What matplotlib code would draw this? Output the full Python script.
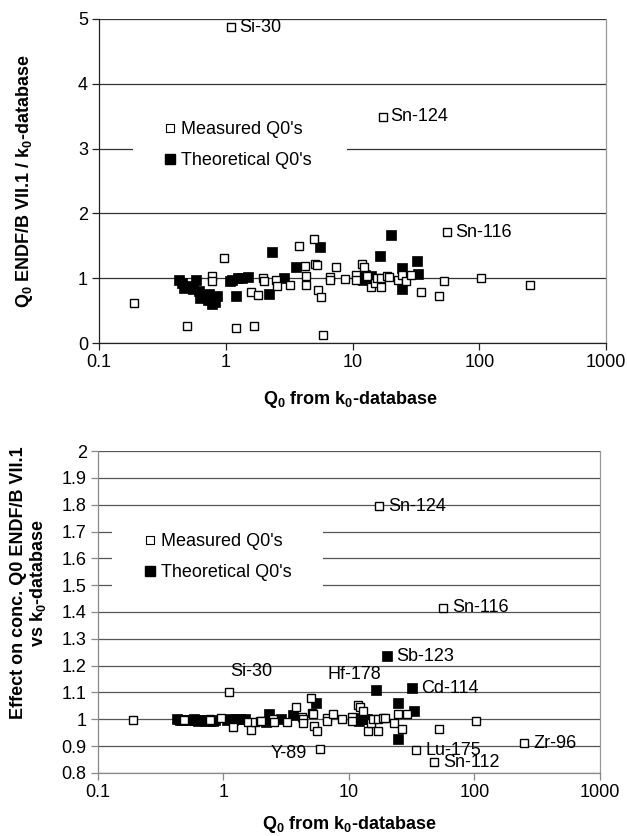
import matplotlib
matplotlib.use("Agg")
import matplotlib.pyplot as plt
from matplotlib.patches import Rectangle
from matplotlib.lines import Line2D

plt.rcParams['font.family'] = ['Liberation Sans', 'DejaVu Sans']
plt.rcParams['mathtext.fontset'] = 'custom'
plt.rcParams['mathtext.rm'] = 'Liberation Sans'
plt.rcParams['mathtext.it'] = 'Liberation Sans:italic'
plt.rcParams['mathtext.bf'] = 'Liberation Sans:bold'

# ---------------- data ----------------
# Measured Q0's (open squares): Q0 from k0-database, ratio (top), effect (bottom)
meas_q0 = [0.19, 0.49, 0.78, 0.78, 0.96, 1.1, 1.2, 1.57, 1.67, 1.8, 1.95, 2.0, 2.5, 2.55,
           3.2, 3.8, 4.2, 4.3, 4.3, 5.0, 5.1, 5.2, 5.3, 5.6, 5.9, 6.7, 6.7, 7.4, 8.8,
           10.6, 10.6, 11.8, 12.3, 13.0, 14.1, 15.0, 15.5, 16.9, 16.9, 17.3, 18.8, 19.5,
           23.0, 24.5, 26.5, 29.0, 34.5, 48.0, 52.5, 56.0, 103, 250]
meas_ratio = [0.62, 0.26, 1.03, 0.95, 1.31, 4.87, 0.23, 0.78, 0.27, 0.74, 1.01, 0.95, 0.98, 0.88,
              0.90, 1.50, 1.19, 1.03, 0.90, 1.61, 1.22, 1.20, 0.82, 0.71, 0.12, 1.02, 0.97, 1.17, 0.99,
              1.05, 0.97, 1.22, 1.18, 1.03, 0.86, 0.93, 1.00, 0.87, 1.01, 3.49, 1.03, 1.02,
              0.98, 1.05, 0.95, 1.05, 0.78, 0.73, 0.95, 1.71, 1.00, 0.90]
meas_effect = [0.997, 0.998, 1.0, 0.998, 1.005, 1.10, 0.97, 0.99, 0.96, 0.99, 0.995, 0.995, 1.0, 0.99,
               0.99, 1.045, 1.01, 1.0, 0.985, 1.08, 1.025, 1.02, 0.975, 0.955, 0.89, 1.005, 0.995, 1.02, 1.0,
               1.01, 0.995, 1.055, 1.045, 1.03, 0.955, 0.985, 1.0, 0.955, 1.0, 1.795, 1.005, 1.005,
               0.985, 1.02, 0.965, 1.02, 0.885, 0.84, 0.965, 1.415, 0.995, 0.91]

# Theoretical Q0's (filled squares)
theo_q0 = [0.43, 0.45, 0.47, 0.51, 0.55, 0.58, 0.61, 0.63, 0.67, 0.72, 0.74, 0.78, 0.82, 0.86,
           1.07, 1.12, 1.2, 1.25, 1.35, 1.5, 2.2, 2.3, 2.9, 3.6, 5.5,
           11.5, 12.0, 12.5, 13.2, 14.0, 16.4, 20.0, 24.7, 24.7, 32.0, 33.0]
theo_ratio = [0.98, 0.92, 0.85, 0.88, 0.84, 0.98, 0.80, 0.69, 0.72, 0.66, 0.76, 0.60, 0.64, 0.72,
              0.95, 0.97, 0.72, 1.00, 1.01, 1.02, 0.76, 1.40, 1.01, 1.17, 1.48,
              1.02, 0.97, 1.05, 1.00, 1.03, 1.34, 1.66, 1.15, 0.83, 1.26, 1.06]
theo_effect = [1.0, 0.998, 0.997, 0.998, 0.997, 1.0, 0.996, 0.995, 0.996, 0.994, 0.996, 0.993, 0.994, 0.996,
               0.999, 1.0, 0.996, 1.0, 1.0, 1.001, 0.99, 1.02, 1.0, 1.015, 1.06,
               1.0, 0.995, 1.005, 1.0, 1.003, 1.11, 1.235, 1.06, 0.925, 1.115, 1.03]

# Labelled isotopes: (name, series, index)
top_labels = [("Si-30", "m", 5), ("Sn-124", "m", 39), ("Sn-116", "m", 49)]
bot_labels = [("Sn-124", "m", 39, "right"), ("Sn-116", "m", 49, "right"),
              ("Si-30", "m", 5, "above"), ("Hf-178", "t", 30, "aboveleft"),
              ("Sb-123", "t", 31, "right"), ("Cd-114", "t", 34, "right"),
              ("Zr-96", "m", 51, "right"), ("Lu-175", "m", 46, "right"),
              ("Sn-112", "m", 47, "right"), ("Y-89", "m", 24, "left")]

xticks = [0.1, 1, 10, 100, 1000]
xticklabels = ["0.1", "1", "10", "100", "1000"]
top_yticks = [0, 1, 2, 3, 4, 5]
bot_yticks = [0.8, 0.9, 1.0, 1.1, 1.2, 1.3, 1.4, 1.5, 1.6, 1.7, 1.8, 1.9, 2.0]
bot_yticklabels = ["0.8", "0.9", "1", "1.1", "1.2", "1.3", "1.4", "1.5", "1.6", "1.7", "1.8", "1.9", "2"]

FS = 13
fig = plt.figure(figsize=(6.27, 8.36), dpi=100)
ax1 = fig.add_axes([0.158, 0.5897, 0.8085, 0.3876])
ax2 = fig.add_axes([0.156, 0.0754, 0.801, 0.3851])

open_kw = dict(marker='s', linestyle='none', markersize=6.2, markerfacecolor='white',
               markeredgecolor='black', markeredgewidth=1.0, zorder=4)
fill_kw = dict(marker='s', linestyle='none', markersize=7.6, markerfacecolor='black',
               markeredgecolor='black', markeredgewidth=0.5, zorder=3)


def style(ax, yticks, yticklabels, ylim, gridcol, spinecol):
    ax.set_xscale('log')
    ax.set_xlim(0.1, 1000)
    ax.set_ylim(*ylim)
    ax.set_xticks(xticks)
    ax.set_xticklabels(xticklabels)
    ax.xaxis.set_minor_locator(matplotlib.ticker.NullLocator())
    ax.set_yticks(yticks)
    ax.set_yticklabels(yticklabels)
    ax.tick_params(axis='both', labelsize=FS, direction='out', length=5, width=0.9,
                   color=spinecol, pad=3)
    for v in yticks:
        ax.axhline(v, color=gridcol, lw=0.9, zorder=1)
    ax.spines['top'].set_visible(False)
    ax.spines['left'].set_color(spinecol)
    ax.spines['bottom'].set_color(spinecol)
    ax.spines['right'].set_color('#999999')
    for s in ax.spines.values():
        s.set_linewidth(0.9)


style(ax1, top_yticks, [str(v) for v in top_yticks], (0, 5), '#333333', '#222222')
style(ax2, bot_yticks, bot_yticklabels, (0.8, 2.0), '#555555', '#888888')

# top chart
ax1.plot(theo_q0, theo_ratio, **fill_kw)
ax1.plot(meas_q0, meas_ratio, **open_kw)
for name, ser, i in top_labels:
    x = meas_q0[i] if ser == "m" else theo_q0[i]
    y = meas_ratio[i] if ser == "m" else theo_ratio[i]
    ax1.annotate(name, (x, y), xytext=(8, 0), textcoords='offset pixels',
                 ha='left', va='center', fontsize=FS, zorder=6)

# bottom chart
ax2.plot(theo_q0, theo_effect, **fill_kw)
ax2.plot(meas_q0, meas_effect, **open_kw)
for name, ser, i, pos in bot_labels:
    x = meas_q0[i] if ser == "m" else theo_q0[i]
    y = meas_effect[i] if ser == "m" else theo_effect[i]
    if pos == "right":
        off, ha, va = (9, 0), 'left', 'center'
    elif pos == "above":
        off, ha, va = (2, 12), 'left', 'bottom'
    elif pos == "aboveleft":
        off, ha, va = (5, 7), 'right', 'bottom'
    else:
        off, ha, va = (-13, -5), 'right', 'center'
    ax2.annotate(name, (x, y), xytext=off, textcoords='offset pixels',
                 ha=ha, va=va, fontsize=FS, zorder=6)

# legend boxes (white background hiding grid lines)
ax1.add_patch(Rectangle((0.067, 0.457), 0.422, 0.293, transform=ax1.transAxes,
                        facecolor='white', edgecolor='none', zorder=2))
ax2.add_patch(Rectangle((0.028, 0.537), 0.42, 0.264, transform=ax2.transAxes,
                        facecolor='white', edgecolor='none', zorder=2))

h_m = Line2D([], [], marker='s', linestyle='none', markersize=5.5, markerfacecolor='white',
             markeredgecolor='black', markeredgewidth=0.8)
h_t = Line2D([], [], marker='s', linestyle='none', markersize=6.5, markerfacecolor='black',
             markeredgecolor='black')
for ax, anchor in ((ax1, (0.126, 0.685)), (ax2, (0.09, 0.745))):
    leg = ax.legend([h_m, h_t], ["Measured Q0's", "Theoretical Q0's"], loc='upper left',
                    bbox_to_anchor=anchor, frameon=False, fontsize=FS, borderpad=0,
                    handlelength=0.75, handletextpad=0.25, labelspacing=0.78,
                    borderaxespad=0)
    leg.set_zorder(5)

# axis labels
ax1.set_xlabel(r"Q$_\mathbf{0}$ from k$_\mathbf{0}$-database", fontsize=FS, fontweight='bold')
ax1.xaxis.set_label_coords(0.495, -0.142)
ax1.set_ylabel(r"Q$_\mathbf{0}$ ENDF/B VII.1 / k$_\mathbf{0}$-database", fontsize=FS,
               fontweight='bold')
ax1.yaxis.set_label_coords(-0.126, 0.5)

ax2.set_xlabel(r"Q$_\mathbf{0}$ from k$_\mathbf{0}$-database", fontsize=FS, fontweight='bold')
ax2.xaxis.set_label_coords(0.5, -0.128)
ax2.set_ylabel("Effect on conc. Q0 ENDF/B VII.1\n" + r"vs k$_\mathbf{0}$-database",
               fontsize=FS, fontweight='bold', linespacing=1.05)
ax2.yaxis.set_label_coords(-0.10, 0.59)

fig.savefig("out.png", dpi=100)
